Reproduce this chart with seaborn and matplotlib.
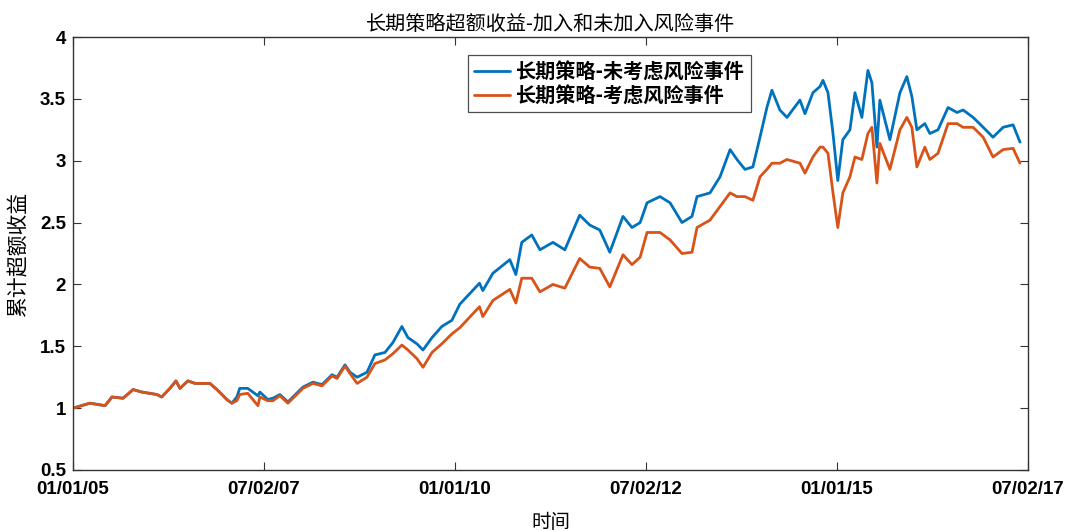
import pandas as pd
import numpy as np
import matplotlib
matplotlib.use("Agg")
import matplotlib.pyplot as plt
import matplotlib.dates as mdates
import seaborn as sns

sns.set_theme(style="white")
plt.rcParams['font.family'] = ['Noto Sans CJK SC', 'DejaVu Sans']
plt.rcParams['text.color'] = 'black'
plt.rcParams['axes.labelcolor'] = 'black'
plt.rcParams['xtick.color'] = 'black'
plt.rcParams['ytick.color'] = 'black'

# -------------------------
#  Data
# -------------------------

dates = [
    "2005-01-01", "2005-03-23", "2005-06-03", "2005-07-06", "2005-08-28", "2005-10-15",
    "2005-11-26", "2006-02-06", "2006-03-01", "2006-04-09", "2006-05-08", "2006-05-27",
    "2006-07-04", "2006-08-07", "2006-10-17", "2006-11-20", "2007-01-06", "2007-01-30",
    "2007-02-23", "2007-03-09", "2007-04-16", "2007-06-04", "2007-06-13", "2007-07-21",
    "2007-08-14", "2007-09-17", "2007-10-25", "2007-11-18", "2008-01-05", "2008-02-22",
    "2008-04-05", "2008-05-23", "2008-06-16", "2008-07-24", "2008-08-17", "2008-09-20",
    "2008-11-06", "2008-12-14", "2009-01-31", "2009-03-10", "2009-04-22", "2009-05-21",
    "2009-07-03", "2009-08-01", "2009-09-13", "2009-10-30", "2009-12-17", "2010-01-24",
    "2010-04-28", "2010-05-14", "2010-07-01", "2010-09-20", "2010-10-19", "2010-11-16",
    "2011-01-03", "2011-02-11", "2011-04-14", "2011-06-10", "2011-08-20", "2011-10-07",
    "2011-11-24", "2012-01-11", "2012-03-14", "2012-04-26", "2012-06-04", "2012-07-07",
    "2012-09-07", "2012-10-25", "2012-12-21", "2013-02-07", "2013-03-03", "2013-05-04",
    "2013-06-21", "2013-08-08", "2013-09-10", "2013-10-18", "2013-11-25", "2013-12-29",
    "2014-01-31", "2014-02-24", "2014-04-03", "2014-05-07", "2014-07-08", "2014-08-01",
    "2014-09-08", "2014-10-12", "2014-10-26", "2014-11-19", "2014-12-13", "2015-01-05",
    "2015-01-29", "2015-03-04", "2015-03-28", "2015-04-30", "2015-05-29", "2015-06-17",
    "2015-07-11", "2015-07-25", "2015-09-11", "2015-10-29", "2015-12-01", "2015-12-25",
    "2016-01-18", "2016-02-25", "2016-03-20", "2016-04-28", "2016-06-15", "2016-07-28",
    "2016-08-26", "2016-10-13", "2016-11-30", "2017-01-16", "2017-03-05", "2017-04-22",
    "2017-05-25",
]

no_risk = [
    1.00, 1.04, 1.02, 1.09, 1.08, 1.15,
    1.13, 1.11, 1.09, 1.16, 1.22, 1.16,
    1.22, 1.20, 1.20, 1.15, 1.07, 1.04,
    1.09, 1.16, 1.16, 1.10, 1.13, 1.07,
    1.08, 1.11, 1.05, 1.09, 1.17, 1.21,
    1.19, 1.27, 1.25, 1.35, 1.29, 1.25,
    1.29, 1.43, 1.45, 1.53, 1.66, 1.57,
    1.52, 1.47, 1.57, 1.66, 1.71, 1.84,
    2.01, 1.95, 2.09, 2.20, 2.08, 2.34,
    2.40, 2.28, 2.34, 2.28, 2.56, 2.48,
    2.44, 2.26, 2.55, 2.46, 2.50, 2.66,
    2.71, 2.66, 2.50, 2.55, 2.71, 2.74,
    2.87, 3.09, 3.01, 2.93, 2.95, 3.19,
    3.43, 3.57, 3.41, 3.35, 3.49, 3.38,
    3.55, 3.60, 3.65, 3.55, 3.22, 2.84,
    3.17, 3.25, 3.55, 3.35, 3.73, 3.63,
    3.11, 3.49, 3.17, 3.55, 3.68, 3.52,
    3.25, 3.30, 3.22, 3.25, 3.43, 3.39,
    3.41, 3.35, 3.27, 3.19, 3.27, 3.29,
    3.15,
]

with_risk = [
    1.00, 1.04, 1.02, 1.09, 1.08, 1.15,
    1.13, 1.11, 1.09, 1.16, 1.22, 1.16,
    1.22, 1.20, 1.20, 1.15, 1.07, 1.04,
    1.06, 1.11, 1.12, 1.02, 1.09, 1.06,
    1.06, 1.10, 1.04, 1.08, 1.16, 1.20,
    1.18, 1.26, 1.24, 1.34, 1.28, 1.20,
    1.25, 1.36, 1.39, 1.44, 1.51, 1.47,
    1.40, 1.33, 1.45, 1.52, 1.60, 1.65,
    1.82, 1.74, 1.87, 1.96, 1.85, 2.05,
    2.05, 1.94, 2.00, 1.97, 2.21, 2.14,
    2.13, 1.98, 2.24, 2.16, 2.22, 2.42,
    2.42, 2.36, 2.25, 2.26, 2.46, 2.52,
    2.63, 2.74, 2.71, 2.71, 2.68, 2.87,
    2.93, 2.98, 2.98, 3.01, 2.98, 2.90,
    3.03, 3.11, 3.11, 3.06, 2.74, 2.46,
    2.74, 2.87, 3.03, 3.01, 3.22, 3.27,
    2.82, 3.14, 2.93, 3.25, 3.35, 3.27,
    2.95, 3.11, 3.01, 3.06, 3.30, 3.30,
    3.27, 3.27, 3.19, 3.03, 3.09, 3.10,
    2.98,
]

series_names = ["长期策略-未考虑风险事件", "长期策略-考虑风险事件"]
tick_dates = ["2005-01-01", "2007-07-02", "2010-01-01", "2012-07-02", "2015-01-01", "2017-07-02"]

df = pd.DataFrame({"date": pd.to_datetime(dates),
                   series_names[0]: no_risk,
                   series_names[1]: with_risk})
long_df = df.melt(id_vars="date", var_name="series", value_name="value")

# -------------------------
#  Plot
# -------------------------

fig = plt.figure(figsize=(10.68, 5.31), dpi=100)
ax = fig.add_axes([0.0684, 0.1149, 0.8941, 0.8154])

sns.lineplot(data=long_df, x="date", y="value", hue="series",
             palette=["#0072BD", "#D95319"], linewidth=2.0, ax=ax)

ax.set_xlim(pd.Timestamp(tick_dates[0]), pd.Timestamp(tick_dates[-1]))
ax.set_ylim(0.5, 4)
ax.set_xticks(pd.to_datetime(tick_dates))
ax.xaxis.set_major_formatter(mdates.DateFormatter("%m/%d/%y"))
ax.set_yticks([0.5, 1, 1.5, 2, 2.5, 3, 3.5, 4])
ax.set_yticklabels(["0.5", "1", "1.5", "2", "2.5", "3", "3.5", "4"])

for lab in ax.get_xticklabels() + ax.get_yticklabels():
    lab.set_family(['Liberation Sans', 'DejaVu Sans'])
    lab.set_fontweight('bold')
    lab.set_fontsize(13.5)

ax.tick_params(axis='x', direction='in', length=6, width=0.8, color='#333333',
               labelcolor='black', top=True, bottom=True, pad=8)
ax.tick_params(axis='y', direction='in', length=6, width=0.8, color='#333333',
               labelcolor='black', left=True, right=True, pad=5)
for sp in ax.spines.values():
    sp.set_color('#333333')
    sp.set_linewidth(1.0)

ax.set_title("长期策略超额收益-加入和未加入风险事件", fontsize=14.5, pad=5,
             fontweight='medium', color='black')
ax.set_xlabel("时间", fontsize=14, labelpad=10)
ax.set_ylabel("累计超额收益", fontsize=15, labelpad=8)

leg = ax.legend(loc="upper left", bbox_to_anchor=(0.4136, 0.958), frameon=True,
                fancybox=False, edgecolor='#222222', fontsize=14.5, handlelength=1.8,
                handletextpad=0.3, borderpad=0.3, labelspacing=0.15, borderaxespad=0)
leg.get_frame().set_linewidth(0.9)
for t in leg.get_texts():
    t.set_fontweight('bold')
    t.set_color('black')

fig.savefig("out.png", dpi=100)
